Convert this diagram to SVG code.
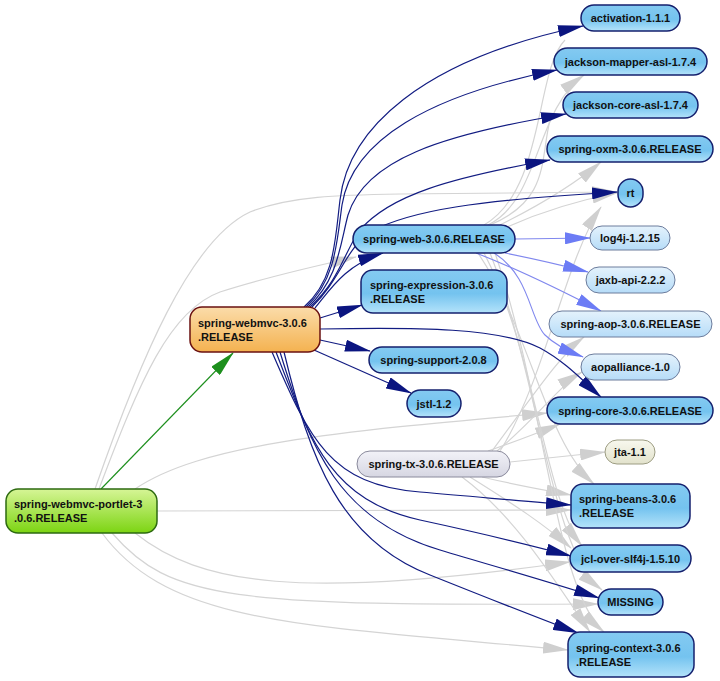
<svg xmlns="http://www.w3.org/2000/svg" width="720" height="681" viewBox="0 0 720 681">
<defs>
<style>
.t{font-family:"Liberation Sans",Arial,sans-serif;font-size:11px;font-weight:bold;fill:#111}
.c{text-anchor:middle}
.en{fill:none;stroke:#121c82;stroke-width:1.2}
.eg{fill:none;stroke:#d4d4d4;stroke-width:1.2}
.el{fill:none;stroke:#8088ee;stroke-width:1.1}
.ev{fill:none;stroke:#1d8f1d;stroke-width:1.1}
.nb{fill:url(#gB);stroke:#15206e;stroke-width:1.5}
.nl{fill:url(#gL);stroke:#6c7c9c;stroke-width:1}
.ns{fill:url(#gS);stroke:#8a8a9c;stroke-width:1}
.ny{fill:url(#gY);stroke:#9c9c82;stroke-width:1}
.no{fill:url(#gO);stroke:#6a1010;stroke-width:1.5}
.ng{fill:url(#gG);stroke:#2d6a10;stroke-width:1.5}
</style>
<linearGradient id="gB" x1="0" y1="0" x2="0" y2="1"><stop offset="0" stop-color="#84caf1"/><stop offset="0.55" stop-color="#74c3ef"/><stop offset="1" stop-color="#b4e3fa"/></linearGradient>
<linearGradient id="gL" x1="0" y1="0" x2="0" y2="1"><stop offset="0" stop-color="#e4f2fc"/><stop offset="1" stop-color="#b6dcf8"/></linearGradient>
<linearGradient id="gS" x1="0" y1="0" x2="0" y2="1"><stop offset="0" stop-color="#f2f2f8"/><stop offset="1" stop-color="#d6d6e2"/></linearGradient>
<linearGradient id="gY" x1="0" y1="0" x2="0" y2="1"><stop offset="0" stop-color="#f8f8ee"/><stop offset="1" stop-color="#e2e2cc"/></linearGradient>
<linearGradient id="gO" x1="0" y1="0" x2="0" y2="1"><stop offset="0" stop-color="#fbdcaa"/><stop offset="1" stop-color="#f4b250"/></linearGradient>
<linearGradient id="gG" x1="0" y1="0" x2="0" y2="1"><stop offset="0" stop-color="#d6f596"/><stop offset="1" stop-color="#7cd412"/></linearGradient>
<marker id="aN" markerUnits="userSpaceOnUse" markerWidth="26" markerHeight="12" refX="25" refY="6" orient="auto"><path d="M0,0 L26,6 L0,12 z" fill="#0b1580"/></marker>
<marker id="aG" markerUnits="userSpaceOnUse" markerWidth="26" markerHeight="12" refX="25" refY="6" orient="auto"><path d="M0,0 L26,6 L0,12 z" fill="#cfcfcf"/></marker>
<marker id="aL" markerUnits="userSpaceOnUse" markerWidth="26" markerHeight="12" refX="25" refY="6" orient="auto"><path d="M0,0 L26,6 L0,12 z" fill="#6c7cf5"/></marker>
<marker id="aV" markerUnits="userSpaceOnUse" markerWidth="26" markerHeight="12" refX="25" refY="6" orient="auto"><path d="M0,0 L26,6 L0,12 z" fill="#1d8f1d"/></marker>
</defs>
<rect width="720" height="681" fill="#ffffff"/>
<g id="connectors">
<!-- gray edges -->
<path class="eg" marker-end="url(#aG)" d="M95,489 C140,360 190,240 250,212 C290,196 340,195 400,194 L617,192"/>
<path class="eg" marker-end="url(#aG)" d="M99,489 C140,380 170,310 220,292 C270,276 320,265 356,257"/>
<path class="eg" marker-end="url(#aG)" d="M135,489 C200,445 330,432 547,413"/>
<path class="eg" marker-end="url(#aG)" d="M157,511 L571,510"/>
<path class="eg" marker-end="url(#aG)" d="M135,533 C200,585 300,600 570,562"/>
<path class="eg" marker-end="url(#aG)" d="M112,533 C170,600 230,606 598,604"/>
<path class="eg" marker-end="url(#aG)" d="M102,533 C170,625 300,625 568,650"/>
<path class="eg" marker-end="url(#aG)" d="M510,462 L605,452"/>
<path class="eg" marker-end="url(#aG)" d="M488,451 C520,440 540,432 560,424"/>
<path class="eg" marker-end="url(#aG)" d="M482,477 C520,486 545,490 571,495"/>
<path class="eg" marker-end="url(#aG)" d="M497,451 C535,420 560,385 582,372"/>
<path class="eg" marker-end="url(#aG)" d="M492,451 C530,400 560,355 584,337"/>
<path class="eg" marker-end="url(#aG)" d="M500,451 C545,380 565,260 601,207"/>
<path class="eg" marker-end="url(#aG)" d="M470,477 C515,505 545,525 571,548"/>
<path class="eg" marker-end="url(#aG)" d="M462,477 C520,520 560,590 590,632"/>
<path class="eg" marker-end="url(#aG)" d="M478,253 C530,330 545,440 594,484"/>
<path class="eg" marker-end="url(#aG)" d="M484,253 C535,350 545,500 582,546"/>
<path class="eg" marker-end="url(#aG)" d="M490,253 C540,380 550,550 602,590"/>
<path class="eg" marker-end="url(#aG)" d="M495,253 C545,400 555,590 604,632"/>
<path class="eg" marker-end="url(#aG)" d="M500,225 C530,210 570,188 601,162"/>
<path class="eg" marker-end="url(#aG)" d="M505,228 C540,212 580,200 617,193"/>
<path class="eg" marker-end="url(#aG)" d="M488,225 C540,200 535,110 584,75"/>
<path class="eg" d="M484,225 C545,190 535,70 565,40"/>
<path class="eg" d="M490,225 C550,200 540,160 550,120"/>
<!-- light blue edges -->
<path class="el" marker-end="url(#aL)" d="M515,239 L590,238"/>
<path class="el" marker-end="url(#aL)" d="M505,253 C540,260 565,266 588,272"/>
<path class="el" marker-end="url(#aL)" d="M476,253 C520,270 570,295 601,311"/>
<path class="el" marker-end="url(#aL)" d="M494,253 C530,275 530,320 545,335 C556,346 570,352 583,357"/>
<!-- navy edges -->
<path class="en" marker-end="url(#aN)" d="M304,307 C335,280 335,240 340,200 C348,130 420,60 583,26"/>
<path class="en" marker-end="url(#aN)" d="M306,307 C336,280 337,240 342,205 C352,140 430,95 557,70"/>
<path class="en" marker-end="url(#aN)" d="M308,307 C338,280 340,245 348,215 C365,160 440,135 566,114"/>
<path class="en" marker-end="url(#aN)" d="M310,307 C340,280 345,250 360,230 C390,195 450,178 550,160"/>
<path class="en" marker-end="url(#aN)" d="M312,307 C340,280 345,250 370,232 C410,210 480,200 617,192"/>
<path class="en" marker-end="url(#aN)" d="M315,308 C330,290 345,265 383,253"/>
<path class="en" marker-end="url(#aN)" d="M320,318 L362,305"/>
<path class="en" marker-end="url(#aN)" d="M320,340 L370,351"/>
<path class="en" marker-end="url(#aN)" d="M314,350 L411,393"/>
<path class="en" marker-end="url(#aN)" d="M320,329 C420,327 500,328 540,348 C566,362 585,383 601,397"/>
<path class="en" marker-end="url(#aN)" d="M272,352 C310,440 330,485 420,492 C480,497 530,502 571,505"/>
<path class="en" marker-end="url(#aN)" d="M276,352 C310,440 330,500 420,520 C480,533 530,545 571,556"/>
<path class="en" marker-end="url(#aN)" d="M280,352 C310,450 340,520 440,550 C500,568 560,585 599,598"/>
<path class="en" marker-end="url(#aN)" d="M284,352 C310,460 340,540 430,575 C480,595 530,615 578,633"/>
<!-- green edge -->
<path class="ev" marker-end="url(#aV)" d="M101,489 L233,353"/>
</g>
<g id="activation"><rect class="nb" x="581" y="5" width="99" height="26" rx="13"/><text class="t c" x="630.5" y="22">activation-1.1.1</text></g>
<g id="jackson-mapper"><rect class="nb" x="554" y="48" width="153" height="27" rx="13.5"/><text class="t c" x="630.5" y="65.5">jackson-mapper-asl-1.7.4</text></g>
<g id="jackson-core"><rect class="nb" x="563" y="92" width="135" height="26" rx="13"/><text class="t c" x="630.5" y="109">jackson-core-asl-1.7.4</text></g>
<g id="spring-oxm"><rect class="nb" x="547" y="136" width="166" height="26" rx="13"/><text class="t c" x="630" y="153">spring-oxm-3.0.6.RELEASE</text></g>
<g id="rt"><rect class="nb" x="618" y="179" width="25" height="28" rx="12.5"/><text class="t c" x="630.5" y="197">rt</text></g>
<g id="log4j"><rect class="nl" x="590" y="226" width="80" height="24" rx="12"/><text class="t c" x="630" y="242">log4j-1.2.15</text></g>
<g id="jaxb"><rect class="nl" x="586" y="267" width="89" height="26" rx="13"/><text class="t c" x="630.5" y="284">jaxb-api-2.2.2</text></g>
<g id="spring-aop"><rect class="nl" x="549" y="311" width="163" height="26" rx="13"/><text class="t c" x="630.5" y="328">spring-aop-3.0.6.RELEASE</text></g>
<g id="aopalliance"><rect class="nl" x="581" y="354" width="99" height="26" rx="13"/><text class="t c" x="630.5" y="371">aopalliance-1.0</text></g>
<g id="spring-core"><rect class="nb" x="547" y="397" width="166" height="27" rx="13.5"/><text class="t c" x="630" y="414.5">spring-core-3.0.6.RELEASE</text></g>
<g id="jta"><rect class="ny" x="605" y="440" width="50" height="24" rx="12"/><text class="t c" x="630" y="456">jta-1.1</text></g>
<g id="spring-beans"><rect class="nb" x="571" y="484" width="119" height="44" rx="12"/><text class="t" x="579" y="503">spring-beans-3.0.6</text><text class="t" x="579" y="517">.RELEASE</text></g>
<g id="jcl-over-slf4j"><rect class="nb" x="570" y="545" width="121" height="27" rx="13.5"/><text class="t c" x="630.5" y="562.5">jcl-over-slf4j-1.5.10</text></g>
<g id="missing"><rect class="nb" x="598" y="589" width="65" height="26" rx="13"/><text class="t c" x="630.5" y="606">MISSING</text></g>
<g id="spring-context"><rect class="nb" x="568" y="632" width="126" height="45" rx="12"/><text class="t" x="576" y="651.5">spring-context-3.0.6</text><text class="t" x="576" y="665.5">.RELEASE</text></g>
<g id="spring-tx"><rect class="ns" x="357" y="451" width="153" height="26" rx="13"/><text class="t c" x="433.5" y="468">spring-tx-3.0.6.RELEASE</text></g>
<g id="spring-web"><rect class="nb" x="353" y="225" width="162" height="28" rx="14"/><text class="t c" x="434" y="243">spring-web-3.0.6.RELEASE</text></g>
<g id="spring-expression"><rect class="nb" x="361" y="270" width="146" height="43" rx="12"/><text class="t" x="370" y="288.5">spring-expression-3.0.6</text><text class="t" x="370" y="302.5">.RELEASE</text></g>
<g id="spring-support"><rect class="nb" x="369" y="347" width="129" height="26" rx="13"/><text class="t c" x="433.5" y="364">spring-support-2.0.8</text></g>
<g id="jstl"><rect class="nb" x="407" y="390" width="54" height="27" rx="13.5"/><text class="t c" x="434" y="407.5">jstl-1.2</text></g>
<g id="spring-webmvc"><rect class="no" x="190" y="307" width="130" height="45" rx="12"/><text class="t" x="198" y="326.5">spring-webmvc-3.0.6</text><text class="t" x="198" y="340.5">.RELEASE</text></g>
<g id="spring-webmvc-portlet"><rect class="ng" x="6" y="489" width="151" height="44" rx="12"/><text class="t" x="14" y="508">spring-webmvc-portlet-3</text><text class="t" x="14" y="522">.0.6.RELEASE</text></g>
</svg>
